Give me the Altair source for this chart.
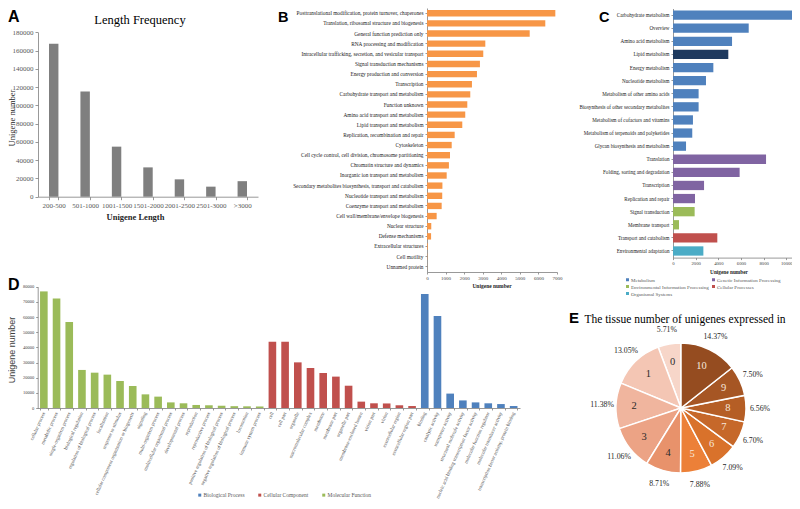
import altair as alt
import pandas as pd

SERIF = "Liberation Serif"
SANS = "Liberation Sans"

# ---------------- data ----------------
# A: length frequency
length_bins = ["200-500", "501-1000", "1001-1500", "1501-2000", "2001-2500", "2501-3000", ">3000"]
length_counts = [167500, 115200, 54800, 32100, 19000, 11000, 17000]

# B: COG classes
cog_terms = [
    "Posttranslational modification, protein turnover, chaperones",
    "Translation, ribosomal structure and biogenesis",
    "General function prediction only",
    "RNA processing and modification",
    "Intracellular trafficking, secretion, and vesicular transport",
    "Signal transduction mechanisms",
    "Energy production and conversion",
    "Transcription",
    "Carbohydrate transport and metabolism",
    "Function unknown",
    "Amino acid transport and metabolism",
    "Lipid transport and metabolism",
    "Replication, recombination and repair",
    "Cytoskeleton",
    "Cell cycle control, cell division, chromosome partitioning",
    "Chromatin structure and dynamics",
    "Inorganic ion transport and metabolism",
    "Secondary metabolites biosynthesis, transport and catabolism",
    "Nucleotide transport and metabolism",
    "Coenzyme transport and metabolism",
    "Cell wall/membrane/envelope biogenesis",
    "Nuclear structure",
    "Defense mechanisms",
    "Extracellular structures",
    "Cell motility",
    "Unnamed protein",
]
cog_counts = [6910, 6370, 5530, 3140, 3030, 2850, 2690, 2420, 2330, 2170, 2060, 1900,
              1490, 1330, 1240, 1180, 1060, 830, 820, 790, 520, 230, 220, 40, 15, 5]

# C: KEGG pathways
kegg_terms = [
    "Carbohydrate metabolism", "Overview", "Amino acid metabolism", "Lipid metabolism",
    "Energy metabolism", "Nucleotide metabolism", "Metabolism of other amino acids",
    "Biosynthesis of other secondary metabolites", "Metabolism of cofactors and vitamins",
    "Metabolism of terpenoids and polyketides", "Glycan biosynthesis and metabolism",
    "Translation", "Folding, sorting and degradation", "Transcription", "Replication and repair",
    "Signal transduction", "Membrane transport", "Transport and catabolism",
    "Environmental adaptation",
]
kegg_counts = [10530, 6680, 5210, 4880, 3560, 2910, 2260, 2260, 1760, 1700, 1150,
               8210, 5880, 2740, 1940, 1910, 530, 3910, 2680]
kegg_legend = ["Metabolism", "Genetic Information Processing",
               "Environmental Information Processing", "Cellular Processes", "Organismal Systems"]
kegg_groups = (["Metabolism"] * 3 + ["Highlight"] + ["Metabolism"] * 7 +
               ["Genetic Information Processing"] * 4 +
               ["Environmental Information Processing"] * 2 +
               ["Cellular Processes"] + ["Organismal Systems"])

# D: GO terms
go_terms = [
    "cellular process", "metabolic process", "single-organism process", "biological regulation",
    "regulation of biological process", "localization", "response to stimulus",
    "cellular component organization or biogenesis", "signaling", "multi-organism process",
    "multicellular organismal process", "developmental process", "reproduction",
    "reproductive process", "positive regulation of biological process",
    "negative regulation of biological process", "locomotion", "immune system process",
    "cell", "cell part", "organelle", "macromolecular complex", "membrane", "membrane part",
    "organelle part", "membrane-enclosed lumen", "virion part", "virion",
    "extracellular region", "extracellular region part",
    "binding", "catalytic activity", "transporter activity", "structural molecule activity",
    "nucleic acid binding transcription factor activity", "molecular function regulator",
    "molecular transducer activity", "transcription factor activity, protein binding",
]
go_counts = [76900, 72300, 56700, 25100, 23300, 22000, 17800, 14500, 9000, 7500,
             3700, 3100, 2000, 1800, 1500, 1200, 1100, 1000,
             43700, 43700, 30100, 26400, 23100, 20700, 14700, 4200, 3100, 3000, 1800, 1300,
             75200, 60700, 9500, 5000, 3700, 3100, 2600, 1300]
go_legend = ["Biological Process", "Cellular Component", "Molecular Function"]
go_groups = [go_legend[0]] * 18 + [go_legend[1]] * 12 + [go_legend[2]] * 8

# E: tissue number pie
tissue_labels = ["0", "1", "2", "3", "4", "5", "6", "7", "8", "9", "10"]
tissue_pct = [5.71, 13.05, 11.38, 11.06, 8.71, 7.88, 7.09, 6.70, 6.56, 7.50, 14.37]

# ---------------- styles ----------------
W, H = 784, 493
PIE_COLORS = ["#f7d6c9", "#f4c6b4", "#f0b59e", "#eca385", "#e8926b", "#ec8038",
              "#d9722b", "#c6682a", "#b55e25", "#a65624", "#954c20"]
PIE_TEXT = ["#2b2b2b"] * 5 + ["#f6e7dc"] * 6


def ax(**kw):
    base = dict(grid=False, labelFont=SERIF, labelOverlap=False, labelFlush=False,
                domainColor="#7f7f7f", tickColor="#7f7f7f", title=None,
                domainWidth=0.8, tickWidth=0.8)
    base.update(kw)
    return alt.Axis(**base)


def label(txt, x, y, size, font=SERIF, weight="normal", angle=0, color="#000000",
          align="center", baseline="alphabetic"):
    return alt.Chart(pd.DataFrame({"t": [txt]})).mark_text(
        font=font, fontSize=size, fontWeight=weight, angle=angle, color=color,
        align=align, baseline=baseline
    ).encode(text="t:N", x=alt.value(x), y=alt.value(y))


# ---------------- panel A ----------------
dfA = pd.DataFrame({"bin": length_bins, "n": length_counts})
chartA = alt.Chart(dfA).mark_bar(color="#7f7f7f").encode(
    x=alt.X("bin:N", sort=length_bins,
            scale=alt.Scale(range=[30, 250], paddingInner=0.7, paddingOuter=0.35),
            axis=ax(orient="bottom", offset=188.7 - H, labelAngle=0, labelFontSize=7,
                    labelColor="#595959", tickBand="extent", tickSize=3, labelPadding=2)),
    y=alt.Y("n:Q", scale=alt.Scale(domain=[0, 180000], range=[188.7, 24.3], nice=False),
            axis=ax(orient="left", offset=-30, values=list(range(0, 180001, 20000)),
                    format="d", labelFontSize=7, labelColor="#595959", tickSize=3,
                    labelPadding=2)),
)

# ---------------- panel B ----------------
dfB = pd.DataFrame({"term": cog_terms, "n": cog_counts})
chartB = alt.Chart(dfB).mark_bar(color="#f79646").encode(
    y=alt.Y("term:N", sort=cog_terms,
            scale=alt.Scale(range=[0, 264], paddingInner=0.37, paddingOuter=0.2),
            axis=ax(orient="left", offset=-419, labelFontSize=5.3, labelColor="#1a1a1a",
                    labelLimit=0, tickSize=2, labelPadding=2)),
    x=alt.X("n:Q", scale=alt.Scale(domain=[0, 7000], range=[419, 549], nice=False),
            axis=ax(orient="bottom", offset=264 - H, values=list(range(0, 7001, 1000)),
                    format="d", labelFontSize=5, labelColor="#404040", tickSize=2,
                    labelPadding=1)),
)

# ---------------- panel C ----------------
dfC = pd.DataFrame({"term": kegg_terms, "n": kegg_counts, "grp": kegg_groups})
chartC = alt.Chart(dfC).mark_bar().encode(
    y=alt.Y("term:N", sort=kegg_terms,
            scale=alt.Scale(range=[0.5, 249.6], paddingInner=0.29, paddingOuter=0.15),
            axis=ax(orient="left", offset=-665, labelFontSize=5.1, labelColor="#1a1a1a",
                    labelLimit=0, tickSize=2, labelPadding=2)),
    x=alt.X("n:Q", scale=alt.Scale(domain=[0, 10500], range=[665, 784], nice=False),
            axis=ax(orient="bottom", offset=249.6 - H, values=list(range(0, 10001, 2000)),
                    format="d", labelFontSize=4.7, labelColor="#404040", tickSize=2,
                    labelPadding=1)),
    color=alt.Color("grp:N",
                    scale=alt.Scale(domain=kegg_legend + ["Highlight"],
                                    range=["#4f81bd", "#8064a2", "#9bbb59", "#c0504d",
                                           "#4bacc6", "#1f3a5f"]),
                    legend=alt.Legend(orient="none", legendX=617, legendY=269, columns=2,
                                      direction="horizontal",
                                      values=kegg_legend, title=None, symbolType="square",
                                      symbolSize=9, symbolStrokeWidth=0, labelFont=SERIF,
                                      labelFontSize=5, labelColor="#595959", rowPadding=1,
                                      columnPadding=2, padding=0, labelOffset=1,
                                      labelLimit=0)),
)

# ---------------- panel D ----------------
dfD = pd.DataFrame({"term": go_terms, "n": go_counts, "grp": go_groups})
chartD = alt.Chart(dfD).mark_bar().encode(
    x=alt.X("term:N", sort=go_terms,
            scale=alt.Scale(range=[29.5, 512], paddingInner=0.4, paddingOuter=0.2),
            axis=ax(orient="bottom", offset=400 - H, labelAngle=294, labelFontSize=4.9,
                    labelColor="#404040", labelLimit=0, tickBand="extent", tickSize=2,
                    labelPadding=2)),
    y=alt.Y("n:Q", scale=alt.Scale(domain=[0, 80000], range=[400, 278.7], nice=False),
            axis=ax(orient="left", offset=-29.7, values=list(range(0, 80001, 10000)),
                    format="d", labelFontSize=4.5, labelColor="#404040", tickSize=2,
                    labelPadding=2)),
    color=alt.Color("grp:N",
                    scale=alt.Scale(domain=go_legend,
                                    range=["#9bbb59", "#c0504d", "#4f81bd"]),
                    legend=None),
)
legendD = alt.Chart(dfD).mark_square(opacity=0, filled=True).encode(
    x=alt.value(0), y=alt.value(0),
    color=alt.Color("grp:N",
                    scale=alt.Scale(domain=go_legend,
                                    range=["#4f81bd", "#c0504d", "#9bbb59"]),
                    legend=alt.Legend(orient="none", legendX=189, legendY=484,
                                      direction="horizontal", title=None,
                                      symbolType="square", symbolSize=9, symbolOpacity=1,
                                      symbolStrokeWidth=0, labelFont=SERIF,
                                      labelFontSize=5.5, labelColor="#595959",
                                      columnPadding=12, padding=0, labelOffset=1,
                                      labelLimit=0)),
)

# ---------------- panel E ----------------
dfE = pd.DataFrame({"lab": tissue_labels, "k": list(range(len(tissue_labels))),
                    "pct": tissue_pct,
                    "pct_lab": [f"{p:.2f}%" for p in tissue_pct]})
CX, CY = 673, 400
arcs = alt.Chart(dfE).mark_arc(radius=65, stroke="white", strokeWidth=1.5).encode(
    theta=alt.Theta("pct:Q", stack=True),
    order=alt.Order("k:Q", sort="descending"),
    color=alt.Color("lab:N", scale=alt.Scale(domain=tissue_labels, range=PIE_COLORS),
                    legend=None),
    x=alt.value(CX), y=alt.value(CY),
)
nums = alt.Chart(dfE).mark_text(radius=47, font=SERIF, fontSize=10.5).encode(
    theta=alt.Theta("pct:Q", stack=True),
    order=alt.Order("k:Q", sort="descending"),
    text="lab:N",
    color=alt.Color("lab:N", scale=alt.Scale(domain=tissue_labels, range=PIE_TEXT),
                    legend=None),
    x=alt.value(CX), y=alt.value(CY),
)
pcts = alt.Chart(dfE).mark_text(radius=79, font=SERIF, fontSize=7.8, color="#262626").encode(
    theta=alt.Theta("pct:Q", stack=True),
    order=alt.Order("k:Q", sort="descending"),
    text="pct_lab:N",
    x=alt.value(CX), y=alt.value(CY),
)

# ---------------- text ----------------
texts = [
    label("A", 0, 13.5, 16, font=SANS, weight="bold", align="left"),
    label("Length Frequency", 132, 16, 12.5),
    label("Unigene number", 4, 110, 8.5, angle=270, baseline="middle", color="#262626"),
    label("Unigene Length", 127.5, 212, 8.5, weight="bold", color="#262626"),
    label("B", 270, 13.5, 14.5, font=SANS, weight="bold", align="left"),
    label("Unigene number", 484, 280, 5.5, weight="bold", color="#262626"),
    label("C", 591, 13.5, 14.5, font=SANS, weight="bold", align="left"),
    label("Unigene number", 721, 266, 5.3, weight="bold", color="#262626"),
    label("D", 0, 282, 16, font=SANS, weight="bold", align="left"),
    label("Unigene number", 4, 342, 9, font=SANS, angle=270, baseline="middle",
          color="#404040"),
    label("E", 561, 315, 15, font=SANS, weight="bold", align="left"),
    label("The tissue number of unigenes expressed in", 677, 315, 11.5),
]

chart = alt.layer(
    chartA, chartB, chartC, chartD, legendD, arcs, nums, pcts, *texts
).resolve_scale(
    x="independent", y="independent", color="independent", theta="independent"
).resolve_axis(
    x="independent", y="independent"
).resolve_legend(
    color="independent"
).properties(
    width=W, height=H, padding=0, background="white",
    autosize=alt.AutoSizeParams(type="none"),
).configure_view(stroke=None)

chart.save("out.html", embed_options={"renderer": "svg", "actions": False})
